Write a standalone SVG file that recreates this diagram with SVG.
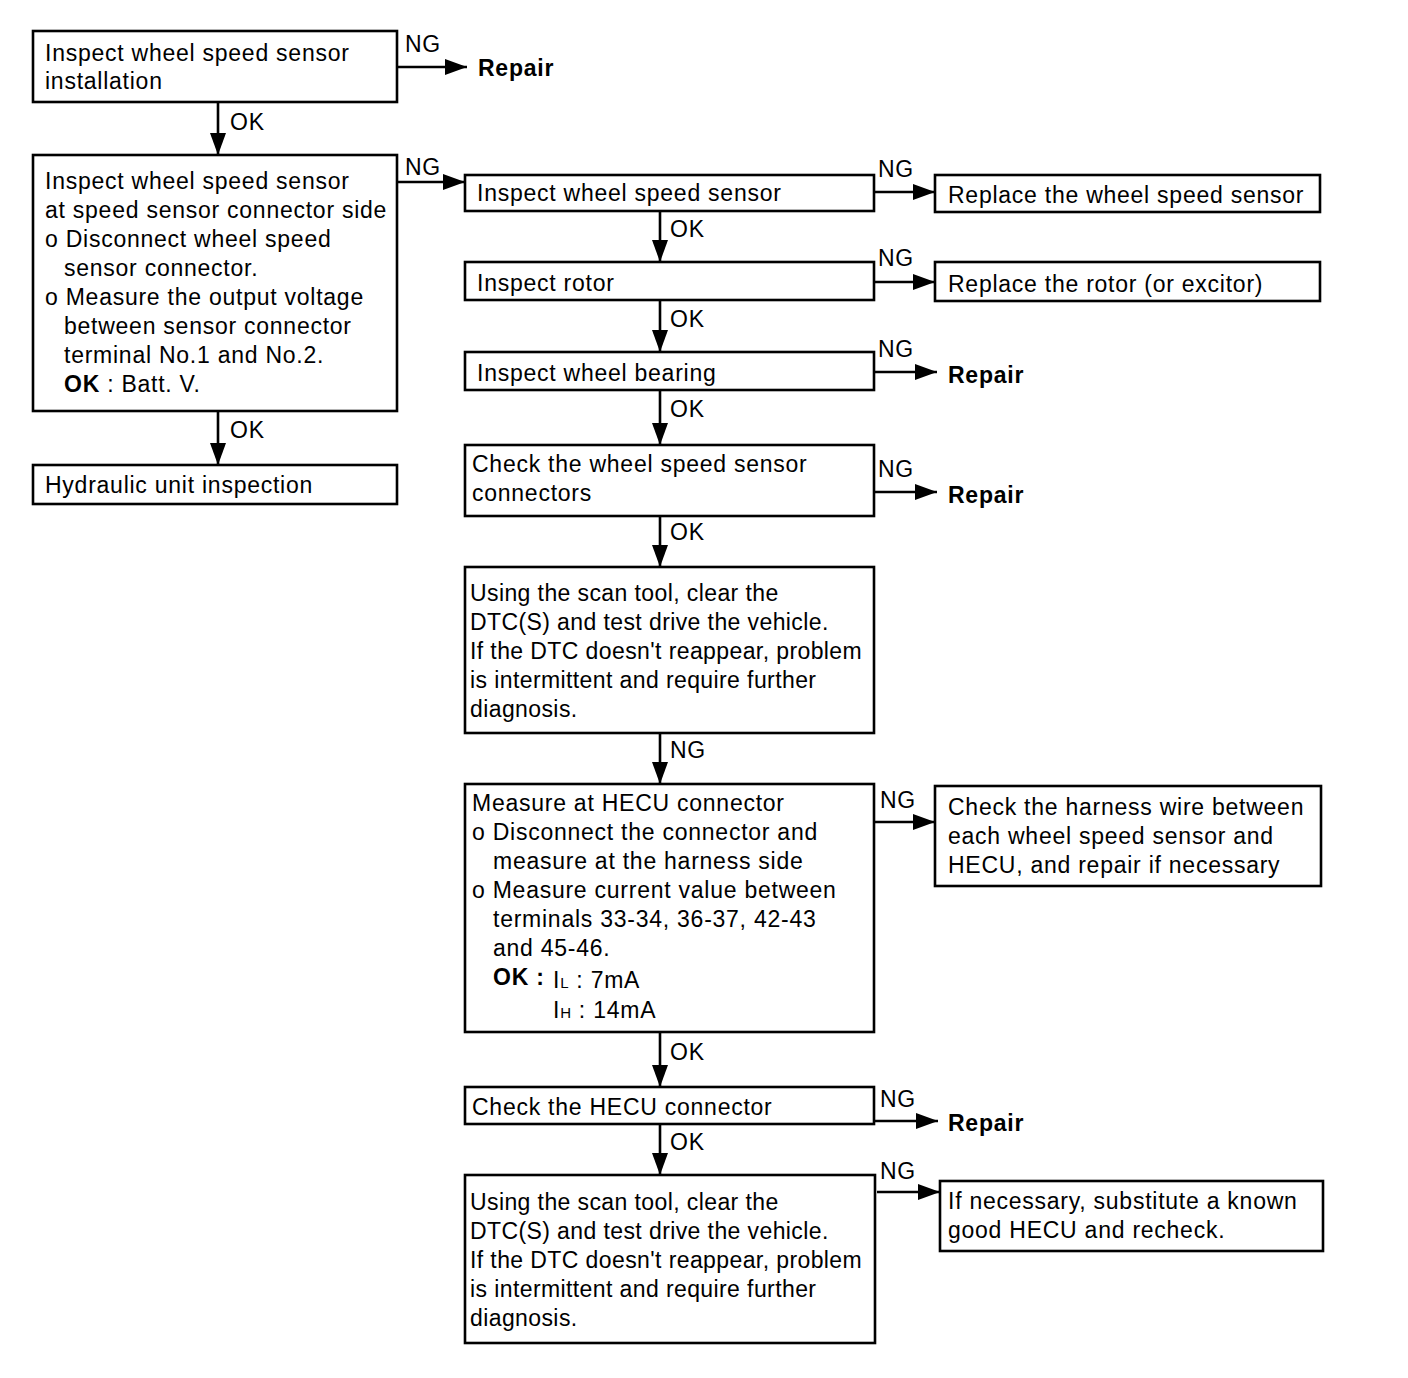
<svg xmlns="http://www.w3.org/2000/svg" width="1408" height="1378" viewBox="0 0 1408 1378">
<style>
rect.b{fill:#fff;stroke:#000;stroke-width:2.6}
text{font-family:"Liberation Sans",Arial,sans-serif;font-size:23px;letter-spacing:0.75px;fill:#000}
.bd{font-weight:bold}
.c line{stroke:#000;stroke-width:2.6}
.sm{font-size:15px}
.nt text{letter-spacing:0.4px}
</style>
<defs>
<marker id="ah" markerUnits="userSpaceOnUse" markerWidth="24" markerHeight="20" refX="22" refY="9" orient="auto">
<path d="M0,1 L22,9 L0,17 Z" fill="#000"/>
</marker>
</defs>
<rect width="1408" height="1378" fill="#fff"/>

<g class="c">
<line x1="397" y1="67" x2="467" y2="67" marker-end="url(#ah)"/>
<line x1="218" y1="102" x2="218" y2="155" marker-end="url(#ah)"/>
<line x1="397" y1="182" x2="465" y2="182" marker-end="url(#ah)"/>
<line x1="218" y1="411" x2="218" y2="465" marker-end="url(#ah)"/>
<line x1="874" y1="192" x2="935" y2="192" marker-end="url(#ah)"/>
<line x1="660" y1="211" x2="660" y2="262" marker-end="url(#ah)"/>
<line x1="874" y1="282" x2="935" y2="282" marker-end="url(#ah)"/>
<line x1="660" y1="300" x2="660" y2="352" marker-end="url(#ah)"/>
<line x1="874" y1="372" x2="937" y2="372" marker-end="url(#ah)"/>
<line x1="660" y1="390" x2="660" y2="445" marker-end="url(#ah)"/>
<line x1="874" y1="492" x2="937" y2="492" marker-end="url(#ah)"/>
<line x1="660" y1="516" x2="660" y2="567" marker-end="url(#ah)"/>
<line x1="660" y1="733" x2="660" y2="784" marker-end="url(#ah)"/>
<line x1="874" y1="822" x2="935" y2="822" marker-end="url(#ah)"/>
<line x1="660" y1="1032" x2="660" y2="1087" marker-end="url(#ah)"/>
<line x1="874" y1="1121" x2="938" y2="1121" marker-end="url(#ah)"/>
<line x1="660" y1="1124" x2="660" y2="1175" marker-end="url(#ah)"/>
<line x1="877" y1="1192" x2="940" y2="1192" marker-end="url(#ah)"/>
<text x="405" y="52">NG</text>
<text x="230" y="130">OK</text>
<text x="405" y="175">NG</text>
<text x="230" y="438">OK</text>
<text x="878" y="177">NG</text>
<text x="670" y="237">OK</text>
<text x="878" y="266">NG</text>
<text x="670" y="327">OK</text>
<text x="878" y="357">NG</text>
<text x="670" y="417">OK</text>
<text x="878" y="477">NG</text>
<text x="670" y="540">OK</text>
<text x="670" y="758">NG</text>
<text x="880" y="808">NG</text>
<text x="670" y="1060">OK</text>
<text x="880" y="1107">NG</text>
<text x="670" y="1150">OK</text>
<text x="880" y="1179">NG</text>
</g>

<g id="n1"><rect class="b" x="33" y="31" width="364" height="71"/>
<text x="45" y="61">Inspect wheel speed sensor</text><text x="45" y="89">installation</text></g>
<g id="r1"><text class="bd" x="478" y="76">Repair</text></g>

<g id="n2"><rect class="b" x="33" y="155" width="364" height="256"/>
<text x="45" y="189">Inspect wheel speed sensor</text>
<text x="45" y="218">at speed sensor connector side</text>
<text x="45" y="247">o Disconnect wheel speed</text>
<text x="64" y="276">sensor connector.</text>
<text x="45" y="305">o Measure the output voltage</text>
<text x="64" y="334">between sensor connector</text>
<text x="64" y="363">terminal No.1 and No.2.</text>
<text x="64" y="392"><tspan class="bd">OK</tspan> : Batt. V.</text></g>

<g id="n3"><rect class="b" x="33" y="465" width="364" height="39"/>
<text x="45" y="493">Hydraulic unit inspection</text></g>

<g id="n4"><rect class="b" x="465" y="175" width="409" height="36"/>
<text x="477" y="201">Inspect wheel speed sensor</text></g>
<g id="n5"><rect class="b" x="935" y="175" width="385" height="37"/>
<text x="948" y="203">Replace the wheel speed sensor</text></g>

<g id="n6"><rect class="b" x="465" y="262" width="409" height="38"/>
<text x="477" y="291">Inspect rotor</text></g>
<g id="n7"><rect class="b" x="935" y="262" width="385" height="39"/>
<text x="948" y="292">Replace the rotor (or excitor)</text></g>

<g id="n8"><rect class="b" x="465" y="352" width="409" height="38"/>
<text x="477" y="381">Inspect wheel bearing</text></g>
<g id="r2"><text class="bd" x="948" y="383">Repair</text></g>

<g id="n9"><rect class="b" x="465" y="445" width="409" height="71"/>
<text x="472" y="472">Check the wheel speed sensor</text>
<text x="472" y="501">connectors</text></g>
<g id="r3"><text class="bd" x="948" y="503">Repair</text></g>

<g id="n10" class="nt"><rect class="b" x="465" y="567" width="409" height="166"/>
<text x="470" y="601">Using the scan tool, clear the</text>
<text x="470" y="630">DTC(S) and test drive the vehicle.</text>
<text x="470" y="659">If the DTC doesn't reappear, problem</text>
<text x="470" y="688">is intermittent and require further</text>
<text x="470" y="717">diagnosis.</text></g>

<g id="n11"><rect class="b" x="465" y="784" width="409" height="248"/>
<text x="472" y="811">Measure at HECU connector</text>
<text x="472" y="840">o Disconnect the  connector and</text>
<text x="493" y="869">measure at the harness side</text>
<text x="472" y="898">o Measure current value between</text>
<text x="493" y="927">terminals 33-34, 36-37, 42-43</text>
<text x="493" y="956">and 45-46.</text>
<text x="493" y="985" class="bd">OK :</text>
<text x="553" y="988">I<tspan class="sm">L</tspan> : 7mA</text>
<text x="553" y="1018">I<tspan class="sm">H</tspan> : 14mA</text></g>
<g id="n12"><rect class="b" x="935" y="786" width="386" height="100"/>
<text x="948" y="815">Check the harness wire between</text>
<text x="948" y="844">each wheel speed sensor and</text>
<text x="948" y="873">HECU, and repair if necessary</text></g>

<g id="n13"><rect class="b" x="465" y="1087" width="409" height="37"/>
<text x="472" y="1115">Check the HECU connector</text></g>
<g id="r4"><text class="bd" x="948" y="1131">Repair</text></g>

<g id="n14" class="nt"><rect class="b" x="465" y="1175" width="410" height="168"/>
<text x="470" y="1210">Using the scan tool, clear the</text>
<text x="470" y="1239">DTC(S) and test drive the vehicle.</text>
<text x="470" y="1268">If the DTC doesn't reappear, problem</text>
<text x="470" y="1297">is intermittent and require further</text>
<text x="470" y="1326">diagnosis.</text></g>
<g id="n15"><rect class="b" x="940" y="1181" width="383" height="70"/>
<text x="948" y="1209">If necessary, substitute a known</text>
<text x="948" y="1238">good HECU and recheck.</text></g>
</svg>
